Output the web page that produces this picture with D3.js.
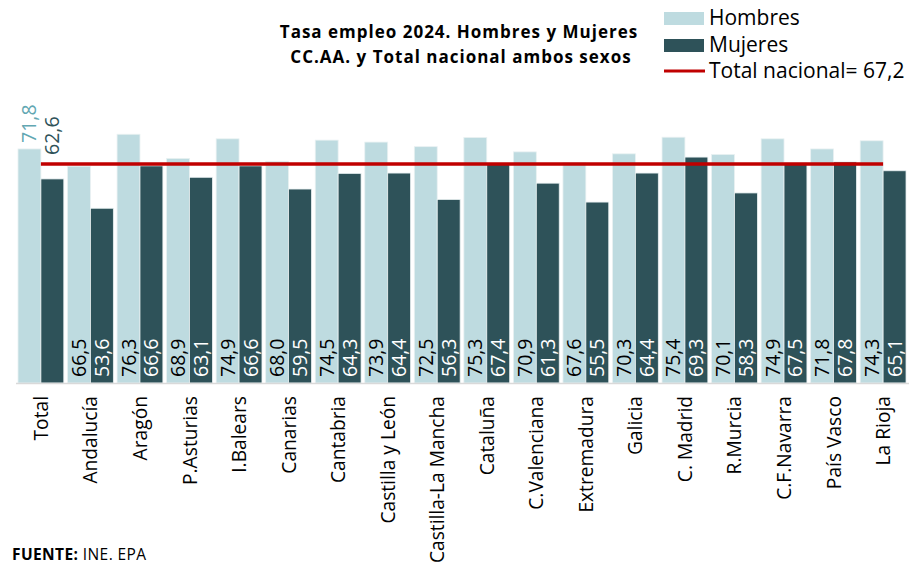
<!DOCTYPE html>
<html>
<head>
<meta charset="utf-8">
<script src="https://cdn.jsdelivr.net/npm/d3@7"></script>
<style>
  body { margin: 0; background: #fff; }
  text { font-family: "Open Sans", "Noto Sans", sans-serif; }
</style>
</head>
<body>
<div id="chart"></div>
<script>
const categories = [
  "Total", "Andalucía", "Aragón", "P.Asturias", "I.Balears", "Canarias",
  "Cantabria", "Castilla y León", "Castilla-La Mancha", "Cataluña",
  "C.Valenciana", "Extremadura", "Galicia", "C. Madrid", "R.Murcia",
  "C.F.Navarra", "País Vasco", "La Rioja"
];
const hombres = [71.8, 66.5, 76.3, 68.9, 74.9, 68.0, 74.5, 73.9, 72.5, 75.3, 70.9, 67.6, 70.3, 75.4, 70.1, 74.9, 71.8, 74.3];
const mujeres = [62.6, 53.6, 66.6, 63.1, 66.6, 59.5, 64.3, 64.4, 56.3, 67.4, 61.3, 55.5, 64.4, 69.3, 58.3, 67.5, 67.8, 65.1];
const totalNacional = 67.2;
const series = ["Hombres", "Mujeres"];

const colors = { Hombres: "#bedbe0", Mujeres: "#2e5259", line: "#c00000" };

const W = 915, H = 564;
const baseY = 383;

const es = d3.formatLocale({ decimal: ",", thousands: ".", grouping: [3], currency: ["", " €"] });
const fmt = es.format(".1f");

const data = categories.map((c, i) => ({ cat: c, Hombres: hombres[i], Mujeres: mujeres[i] }));

const svg = d3.select("#chart").append("svg")
  .attr("width", W)
  .attr("height", H);

const x0 = d3.scaleBand()
  .domain(categories)
  .range([16, 908])
  .paddingInner(0.075)
  .paddingOuter(0.04);

const x1 = d3.scaleBand()
  .domain(series)
  .range([0, x0.bandwidth()]);

const y = d3.scaleLinear()
  .domain([0, 80])
  .range([baseY, baseY - 80 * 3.26]);

// bars
const groups = svg.append("g")
  .selectAll("g")
  .data(data)
  .join("g")
  .attr("transform", d => "translate(" + x0(d.cat) + ",0)");

groups.selectAll("rect")
  .data(d => series.map(s => ({ s: s, v: d[s], cat: d.cat })))
  .join("rect")
  .attr("x", d => x1(d.s))
  .attr("y", d => y(d.v))
  .attr("width", x1.bandwidth())
  .attr("height", d => baseY - y(d.v))
  .attr("fill", d => colors[d.s])
  .attr("stroke", "#e9f1f2")
  .attr("stroke-width", 0.8);

// axis line
svg.append("line")
  .attr("x1", 16).attr("x2", 909)
  .attr("y1", baseY + 0.5).attr("y2", baseY + 0.5)
  .attr("stroke", "#d9d9d9")
  .attr("stroke-width", 1.5);

// value labels
groups.selectAll("text.val")
  .data(d => series.map(s => ({ s: s, v: d[s], cat: d.cat })))
  .join("text")
  .attr("class", "val")
  .attr("transform", d => {
    const cx = x1(d.s) + x1.bandwidth() / 2 + 7;
    let ty;
    if (d.cat === "Total") {
      ty = d.s === "Hombres" ? y(d.v) - 6 : y(hombres[0]) + 6;
    } else {
      ty = baseY - 6;
    }
    return "translate(" + cx + "," + ty + ") rotate(-90)";
  })
  .attr("text-anchor", "start")
  .attr("font-size", 19.5)
  .attr("fill", d => {
    if (d.cat === "Total") return d.s === "Hombres" ? "#62a7b2" : "#2e5259";
    return d.s === "Hombres" ? "#000" : "#fff";
  })
  .text(d => fmt(d.v));

// total nacional line
const first = categories[0], last = categories[categories.length - 1];
svg.append("line")
  .attr("x1", x0(first) + x0.bandwidth() / 2)
  .attr("x2", x0(last) + x0.bandwidth() / 2)
  .attr("y1", y(totalNacional))
  .attr("y2", y(totalNacional))
  .attr("stroke", colors.line)
  .attr("stroke-width", 3.5);

// category labels
svg.append("g")
  .selectAll("text")
  .data(categories)
  .join("text")
  .attr("transform", d => "translate(" + (x0(d) + x0.bandwidth() / 2 + 7) + "," + (baseY + 13) + ") rotate(-90)")
  .attr("text-anchor", "end")
  .attr("font-size", 19.2)
  .attr("fill", "#000")
  .text(d => d);

// title
const title = svg.append("text")
  .attr("text-anchor", "middle")
  .attr("font-size", 17)
  .attr("font-weight", "bold")
  .attr("letter-spacing", 1)
  .attr("fill", "#000");
title.append("tspan").attr("x", 459).attr("y", 38).text("Tasa empleo 2024. Hombres y Mujeres");
title.append("tspan").attr("x", 461).attr("y", 63).text("CC.AA. y Total nacional ambos sexos");

// legend
const legend = svg.append("g");
const legItems = [
  { label: "Hombres", type: "rect", color: colors.Hombres, y: 25 },
  { label: "Mujeres", type: "rect", color: colors.Mujeres, y: 52 },
  { label: "Total nacional= " + fmt(totalNacional), type: "line", color: colors.line, y: 78 }
];
legItems.forEach(it => {
  if (it.type === "rect") {
    legend.append("rect")
      .attr("x", 664).attr("y", it.y - 13)
      .attr("width", 40).attr("height", 13)
      .attr("fill", it.color);
  } else {
    legend.append("line")
      .attr("x1", 664).attr("x2", 705)
      .attr("y1", it.y - 7).attr("y2", it.y - 7)
      .attr("stroke", it.color)
      .attr("stroke-width", 3);
  }
  legend.append("text")
    .attr("x", 709).attr("y", it.y)
    .attr("font-size", 21)
    .attr("fill", "#000")
    .text(it.label);
});

// source
const src = svg.append("text")
  .attr("x", 12).attr("y", 560)
  .attr("font-size", 15.5)
  .attr("letter-spacing", 0.4)
  .attr("fill", "#000");
src.append("tspan").attr("font-weight", "bold").text("FUENTE:");
src.append("tspan").text(" INE. EPA");
</script>
</body>
</html>
